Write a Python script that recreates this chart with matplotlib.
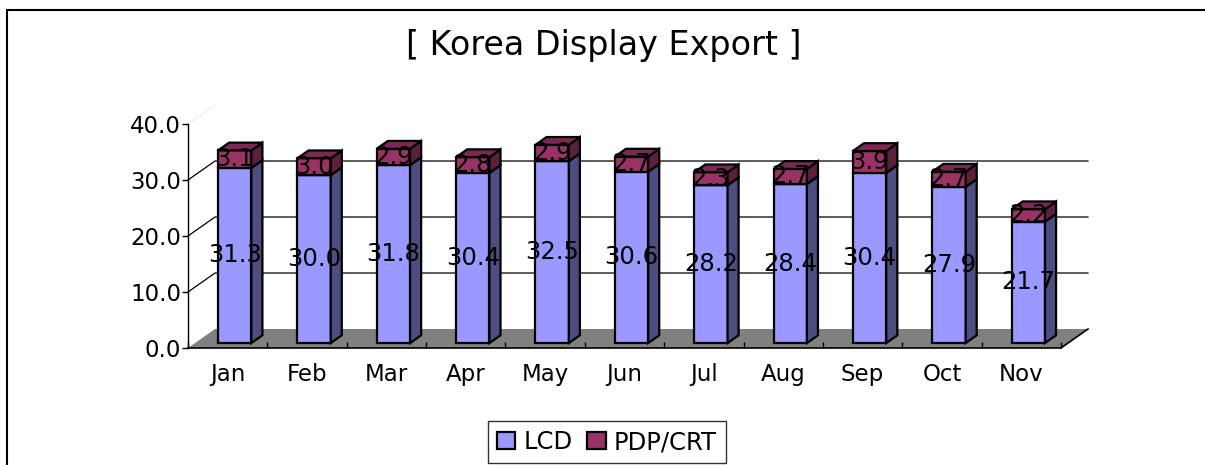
import numpy as np
import matplotlib
matplotlib.use("Agg")
import matplotlib.pyplot as plt
from matplotlib.patches import Polygon, Patch, Rectangle

# data
months = ['Jan', 'Feb', 'Mar', 'Apr', 'May', 'Jun', 'Jul', 'Aug', 'Sep', 'Oct', 'Nov']
lcd = [31.3, 30.0, 31.8, 30.4, 32.5, 30.6, 28.2, 28.4, 30.4, 27.9, 21.7]
pdp_crt = [3.1, 3.0, 2.9, 2.8, 2.9, 2.7, 2.3, 2.7, 3.9, 2.7, 2.2]
yticks = [0, 10, 20, 30, 40]

plt.rcParams['font.family'] = ['DejaVu Sans']

W, H = 1205, 465
fig = plt.figure(figsize=(W / 100, H / 100), dpi=100)
# front plane of the 3d box
ax = fig.add_axes([188 / W, (H - 348) / H, (1061 - 188) / W, (348 - 124) / H])
n = len(months)
ax.set_xlim(0, n)
ax.set_ylim(0, 40)
ax.patch.set_visible(False)

# depth of the floor / bars in data units
dxF, dyF = 0.34, 3.39
b0 = 0.26   # bar starts at this fraction of the depth
bd = 0.41   # bar depth fraction
bw = 0.42   # bar width (category units)

# floor
floor = Polygon([(0, 0), (n, 0), (n + dxF, dyF), (dxF, dyF)], closed=True,
                facecolor='#808080', edgecolor='none', zorder=1, clip_on=False)
ax.add_patch(floor)
ax.plot([n, n + dxF], [0, dyF], color='black', lw=1.2, zorder=1.2, clip_on=False)

# back wall gridlines and side wall diagonals
for v in yticks[1:-1]:
    ax.plot([0, dxF, n + dxF], [v, v + dyF, v + dyF], color='black', lw=0.9,
            zorder=1.5, clip_on=False)
ax.plot([0, dxF], [40, 40 + dyF], color='#cccccc', lw=0.8, ls=':', zorder=1.5,
        clip_on=False)


def box(x0, y0, h, front, side, top):
    ox, oy = b0 * dxF, b0 * dyF
    px, py = bd * dxF, bd * dyF
    xl, xr = x0 + ox, x0 + ox + bw
    yb, yt = y0 + oy, y0 + oy + h
    kw = dict(closed=True, edgecolor='black', lw=1.6, zorder=2, clip_on=False,
              joinstyle='miter')
    ax.add_patch(Polygon([(xl, yb), (xr, yb), (xr, yt), (xl, yt)], facecolor=front, **kw))
    ax.add_patch(Polygon([(xr, yb), (xr + px, yb + py), (xr + px, yt + py), (xr, yt)],
                         facecolor=side, **kw))
    ax.add_patch(Polygon([(xl, yt), (xr, yt), (xr + px, yt + py), (xl + px, yt + py)],
                         facecolor=top, **kw))
    return (xl + xr) / 2, (yb + yt) / 2


for i in range(n):
    x0 = i + 0.5 - bw / 2
    cx, cy = box(x0, 0, lcd[i], '#9999FF', '#4D4D80', '#7A7ACC')
    ax.text(cx, cy, '%.1f' % lcd[i], ha='center', va='center', fontsize=17.5,
            zorder=5, clip_on=False)
    cx2, cy2 = box(x0, lcd[i], pdp_crt[i], '#993366', '#5C1F3D', '#7A2952')
    ax.text(cx2, cy2, '%.1f' % pdp_crt[i], ha='center', va='center', fontsize=17.5,
            zorder=5, clip_on=False)

# axes
for s in ['top', 'right']:
    ax.spines[s].set_visible(False)
ax.spines['left'].set_linewidth(1.0)
ax.spines['bottom'].set_linewidth(1.2)
ax.set_yticks(yticks)
ax.set_yticklabels(['%.1f' % v for v in yticks], fontsize=16.5)
ax.tick_params(axis='y', direction='out', length=4, width=1, pad=1)
ax.set_xticks(np.arange(n + 1))
ax.set_xticklabels([])
ax.set_xticks(np.arange(n) + 0.5, minor=True)
ax.set_xticklabels(months, minor=True, fontsize=16.5)
ax.tick_params(axis='x', which='major', direction='in', length=4, width=1)
ax.tick_params(axis='x', which='minor', length=0, pad=11)

fig.text(604 / W, 1 - 45 / H, '[ Korea Display Export ]', ha='center', va='center',
         fontsize=24)

handles = [Patch(facecolor='#9999FF', edgecolor='black', lw=1.6, label='LCD'),
           Patch(facecolor='#993366', edgecolor='black', lw=1.6, label='PDP/CRT')]
leg = fig.legend(handles=handles, loc='center', bbox_to_anchor=(607 / W, (H - 442) / H),
                 ncol=2, fontsize=17.5, frameon=True, fancybox=False, handlelength=0.75,
                 handleheight=0.75, handletextpad=0.35, columnspacing=0.6,
                 borderpad=0.35, borderaxespad=0)
leg.get_frame().set_edgecolor('black')
leg.get_frame().set_linewidth(1.0)

# chart border (cropped on the right and bottom)
fig.patches.append(Rectangle((7 / W, -0.1), 1.2, 1 - 10 / H + 0.1, transform=fig.transFigure,
                             fill=False, edgecolor='black', lw=1.5))

fig.savefig('out.png', dpi=100)
